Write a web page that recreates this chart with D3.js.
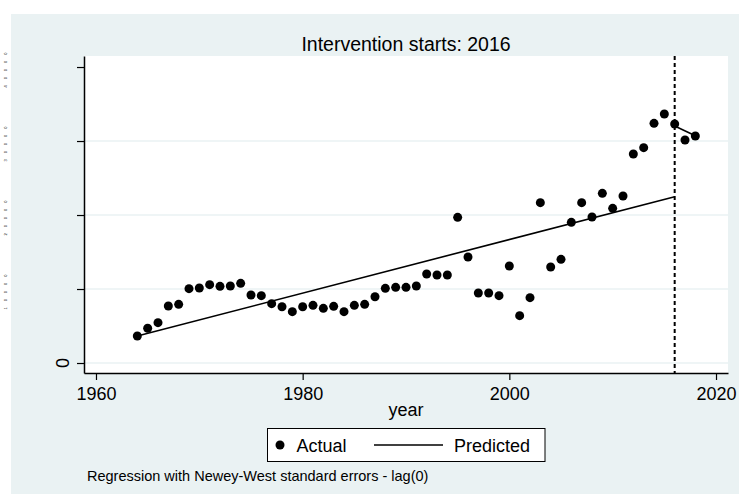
<!DOCTYPE html>
<html>
<head>
<meta charset="utf-8">
<script src="https://cdn.jsdelivr.net/npm/d3@7"></script>
<style>
  html, body { margin: 0; padding: 0; background: #ffffff; }
  text { font-family: "Liberation Sans", Arial, sans-serif; fill: #000; }
</style>
</head>
<body>
<div id="container"></div>
<script>
// actual values by year
const years = [1964, 1965, 1966, 1967, 1968, 1969, 1970, 1971, 1972, 1973, 1974, 1975, 1976, 1977, 1978, 1979,
  1980, 1981, 1982, 1983, 1984, 1985, 1986, 1987, 1988, 1989, 1990, 1991, 1992, 1993, 1994, 1995, 1996, 1997,
  1998, 1999, 2000, 2001, 2002, 2003, 2004, 2005, 2006, 2007, 2008, 2009, 2010, 2011, 2012, 2013, 2014, 2015,
  2016, 2017, 2018];
const actual = [3650, 4690, 5450, 7700, 7930, 10050, 10140, 10590, 10360, 10410, 10770, 9190, 9100, 8020, 7610, 6940,
  7610, 7790, 7390, 7660, 6940, 7790, 7930, 8960, 10090, 10230, 10230, 10410, 12030, 11890, 11890, 19690, 14320, 9460,
  9460, 9100, 13110, 6400, 8830, 21670, 12970, 14010, 19010, 21670, 19730, 22930, 20900, 22570, 28240, 29100, 32390, 33650,
  32300, 30140, 30680];

// fitted lines: pre-intervention and post-intervention
const preYears = [1964, 2016];
const prePredicted = [3650, 22480];
const postYears = [2016, 2018];
const postPredicted = [32030, 30720];

const interventionYear = 2016;
const xTicks = [1960, 1980, 2000, 2020];
const yTicks = [0, 10000, 20000, 30000, 40000];
const yTickLabels = ["0", "10000", "20000", "30000", "40000"];

const W = 739, H = 495;
const plot = { left: 84, right: 728, top: 56, bottom: 373 };

const svg = d3.select("#container")
  .append("svg")
  .attr("width", W)
  .attr("height", H);

// graph region background
svg.append("rect")
  .attr("x", 11).attr("y", 14)
  .attr("width", W - 11).attr("height", 480)
  .attr("fill", "#eaf2f3");

// plot region
svg.append("rect")
  .attr("x", plot.left).attr("y", plot.top)
  .attr("width", plot.right - plot.left).attr("height", plot.bottom - plot.top)
  .attr("fill", "#ffffff");

const x = d3.scaleLinear()
  .domain([1958.84, 2021.16])
  .range([plot.left, plot.right]);

const y = d3.scaleLinear()
  .domain([-1350, 41490])
  .range([plot.bottom, plot.top]);

// grid lines (none at the top tick)
svg.append("g")
  .selectAll("line")
  .data(yTicks.slice(0, 4))
  .join("line")
  .attr("x1", plot.left).attr("x2", plot.right)
  .attr("y1", d => y(d)).attr("y2", d => y(d))
  .attr("stroke", "#eaf2f3")
  .attr("stroke-width", 1.5);

// axes
const xAxis = svg.append("g")
  .attr("transform", `translate(0,${plot.bottom})`)
  .call(d3.axisBottom(x).tickValues(xTicks).tickFormat(d3.format("d")).tickSizeInner(7).tickSizeOuter(0));
xAxis.select(".domain").attr("stroke", "#000").attr("stroke-width", 1.5);
xAxis.selectAll(".tick line").attr("stroke", "#000").attr("stroke-width", 1.2);
xAxis.selectAll("text")
  .attr("y", 27).attr("dy", null)
  .attr("font-size", "18px")
  .attr("font-family", "Liberation Sans, Arial, sans-serif")
  .attr("fill", "#000");

const yAxis = svg.append("g")
  .attr("transform", `translate(${plot.left},0)`)
  .call(d3.axisLeft(y).tickValues(yTicks).tickFormat("").tickSizeInner(7).tickSizeOuter(0));
yAxis.select(".domain").attr("stroke", "#000").attr("stroke-width", 1.5);
yAxis.selectAll(".tick line").attr("stroke", "#000").attr("stroke-width", 1.2);

// y label "0" next to the axis
svg.append("text")
  .attr("transform", `translate(69,${y(0)}) rotate(-90)`)
  .attr("text-anchor", "middle")
  .attr("font-size", "18px")
  .text(yTickLabels[0]);

// the other y labels only show as faint dotted strokes at the far left
svg.append("g")
  .selectAll("text")
  .data(yTicks.slice(1))
  .join("text")
  .attr("transform", d => `translate(6.5,${y(d)}) rotate(-90)`)
  .attr("text-anchor", "middle")
  .attr("font-size", "4px")
  .attr("letter-spacing", "6px")
  .attr("fill", "#000")
  .text((d, i) => yTickLabels[i + 1]);

// intervention line
svg.append("line")
  .attr("x1", x(interventionYear)).attr("x2", x(interventionYear))
  .attr("y1", plot.top).attr("y2", plot.bottom)
  .attr("stroke", "#000")
  .attr("stroke-width", 2)
  .attr("stroke-dasharray", "4,3");

// predicted lines
const line = d3.line()
  .x(d => x(d[0]))
  .y(d => y(d[1]));

svg.append("path")
  .datum(preYears.map((yr, i) => [yr, prePredicted[i]]))
  .attr("fill", "none")
  .attr("stroke", "#000")
  .attr("stroke-width", 1.6)
  .attr("d", line);

svg.append("path")
  .datum(postYears.map((yr, i) => [yr, postPredicted[i]]))
  .attr("fill", "none")
  .attr("stroke", "#000")
  .attr("stroke-width", 1.6)
  .attr("d", line);

// actual points
svg.append("g")
  .selectAll("circle")
  .data(years)
  .join("circle")
  .attr("cx", d => x(d))
  .attr("cy", (d, i) => y(actual[i]))
  .attr("r", 4.5)
  .attr("fill", "#000");

// title
svg.append("text")
  .attr("x", (plot.left + plot.right) / 2)
  .attr("y", 50.5)
  .attr("text-anchor", "middle")
  .attr("font-size", "19.5px")
  .text("Intervention starts: " + interventionYear);

// x axis title
svg.append("text")
  .attr("x", (plot.left + plot.right) / 2)
  .attr("y", 416)
  .attr("text-anchor", "middle")
  .attr("font-size", "18px")
  .text("year");

// legend
const legend = svg.append("g");
legend.append("rect")
  .attr("x", 267.5).attr("y", 428.5)
  .attr("width", 277.5).attr("height", 33)
  .attr("fill", "#ffffff")
  .attr("stroke", "#000")
  .attr("stroke-width", 1);
legend.append("circle")
  .attr("cx", 280).attr("cy", 445)
  .attr("r", 4.5)
  .attr("fill", "#000");
legend.append("text")
  .attr("x", 296.5).attr("y", 451.7)
  .attr("font-size", "18px")
  .text("Actual");
legend.append("line")
  .attr("x1", 374).attr("x2", 443)
  .attr("y1", 445).attr("y2", 445)
  .attr("stroke", "#000")
  .attr("stroke-width", 1.6);
legend.append("text")
  .attr("x", 454).attr("y", 451.7)
  .attr("font-size", "18px")
  .text("Predicted");

// note
svg.append("text")
  .attr("x", 87).attr("y", 481)
  .attr("font-size", "14.5px")
  .text("Regression with Newey-West standard errors - lag(0)");
</script>
</body>
</html>
